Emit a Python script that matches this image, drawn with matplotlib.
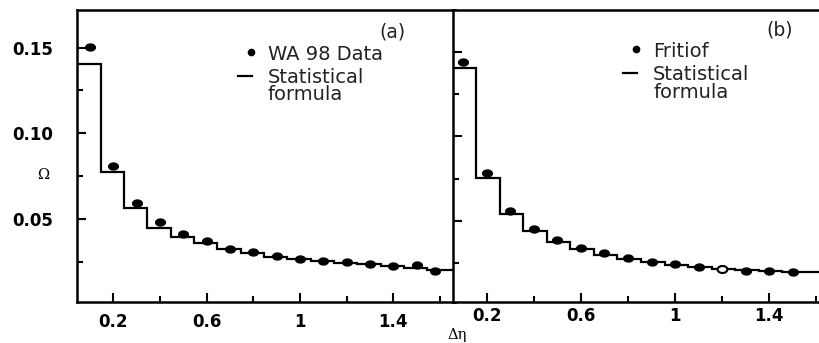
import numpy as np
import matplotlib
matplotlib.use("Agg")
import matplotlib.pyplot as plt
from matplotlib.lines import Line2D
from matplotlib.path import Path
from matplotlib.ticker import MultipleLocator

# bin centres (delta eta)
eta = np.array([0.1, 0.2, 0.3, 0.4, 0.5, 0.6, 0.7, 0.8, 0.9, 1.0,
                1.1, 1.2, 1.3, 1.4, 1.5, 1.6])

# panel (a): WA98 data and statistical formula
eta_wa98 = [0.1, 0.2, 0.3, 0.4, 0.5, 0.6, 0.7, 0.8, 0.9, 1.0,
            1.1, 1.2, 1.3, 1.4, 1.5, 1.58]
omega_wa98 = [0.1501, 0.0811, 0.0595, 0.0484, 0.0411, 0.0372, 0.0327, 0.0310,
              0.0284, 0.0267, 0.0255, 0.0249, 0.0236, 0.0228, 0.0231, 0.0199]
stat_a = [0.1404, 0.0776, 0.0566, 0.0449, 0.0393, 0.0358, 0.0323, 0.0300,
          0.0280, 0.0267, 0.0255, 0.0245, 0.0236, 0.0226, 0.0216, 0.0203]

# panel (b): Fritiof and statistical formula
eta_fritiof = [0.1, 0.2, 0.3, 0.4, 0.5, 0.6, 0.7, 0.8, 0.9, 1.0,
               1.1, 1.2, 1.3, 1.4, 1.5]
omega_fritiof = [0.1437, 0.0782, 0.0560, 0.0455, 0.0389, 0.0340, 0.0313, 0.0284,
                 0.0260, 0.0245, 0.0227, 0.0215, 0.0207, 0.0207, 0.0200]
stat_b = [0.1402, 0.0756, 0.0542, 0.0442, 0.0373, 0.0334, 0.0300, 0.0276,
          0.0257, 0.0241, 0.0227, 0.0217, 0.0212, 0.0206, 0.0200, 0.0196]

# slightly flattened dot, as in the scanned figure
circ = Path.unit_circle()
dot = Path(circ.vertices * [1.4, 1.0], circ.codes)

W, H = 819, 343
fig = plt.figure(figsize=(W / 100, H / 100), dpi=100)

def px(x0, y0, x1, y1):
    return [x0 / W, 1 - y1 / H, (x1 - x0) / W, (y1 - y0) / H]

ax1 = fig.add_axes(px(76.7, 10, 455, 302.3))
ax2 = fig.add_axes(px(453.3, 10, 819, 301.7))

def style(ax, xpad):
    for s in ax.spines.values():
        s.set_linewidth(1.8)
    ax.xaxis.set_major_locator(MultipleLocator(0.4))
    ax.xaxis.set_minor_locator(MultipleLocator(0.2))
    ax.yaxis.set_major_locator(MultipleLocator(0.05))
    ax.yaxis.set_minor_locator(MultipleLocator(0.025))
    ax.tick_params(which="both", direction="in", top=False, right=False, width=1.5)
    ax.tick_params(which="major", length=6.5)
    ax.tick_params(which="minor", length=4)
    ax.tick_params(axis="x", pad=xpad)
    ax.set_xticks([0.2, 0.6, 1.0, 1.4])
    ax.set_xticklabels(["0.2", "0.6", "1", "1.4"], fontsize=12, fontweight="bold")

style(ax1, 7.5)
style(ax2, 3.5)

ax1.set_xlim(0.043, 1.664)
ax1.set_ylim(0.0015, 0.1719)
ax1.set_yticks([0.05, 0.10, 0.15])
ax1.set_yticklabels(["0.05", "0.10", "0.15"], fontsize=12, fontweight="bold")
ax1.tick_params(axis="y", pad=17)

ax2.set_xlim(0.058, 1.611)
ax2.set_ylim(0.0023, 0.1746)
ax2.set_yticklabels([])
ax2.spines["right"].set_visible(False)

# panel (a)
ax1.stairs(stat_a, np.r_[eta - 0.055, 1.7], baseline=None, color="k", lw=1.6)
ax1.plot(eta_wa98, omega_wa98, ls="none", marker=dot, ms=7, color="k")

# panel (b)
ax2.stairs(stat_b, np.r_[eta - 0.045, 1.7], baseline=None, color="k", lw=1.6)
ax2.plot(eta_fritiof, omega_fritiof, ls="none", marker=dot, ms=7, color="k")
ax2.plot(eta_fritiof[11], omega_fritiof[11], ls="none", marker=dot, ms=7,
         color="k", mfc="white", mew=1.5)

# hand-placed keys (figure pixel positions)
def key(name, x, y, tag, tagx):
    T = fig.transFigure
    fig.add_artist(Line2D([(x + 12.7) / W], [1 - (y - 8) / H], transform=T,
                          ls="none", marker="o", ms=4.5, color="k"))
    fig.add_artist(Line2D([x / W, (x + 14) / W], [1 - (y + 16) / H] * 2,
                          transform=T, color="k", lw=1.6))
    tx = (x + 30) / W
    kw = dict(fontsize=14, color="#222222", ha="left")
    fig.text(tx, 1 - y / H, name, va="baseline", **kw)
    fig.text(tx, 1 - (y + 8.5) / H, "Statistical\nformula", va="top",
             linespacing=0.9, **kw)
    fig.text(tagx / W, 1 - (y - 27) / H, tag, fontsize=13.5, ha="center",
             va="center", color="#222222")

key("WA 98 Data", 238, 59.5, "(a)", 392)
key("Fritiof", 623, 57, "(b)", 780)

fig.text(43 / W, 1 - 175 / H, "Ω", family="DejaVu Serif", fontsize=10.5,
         ha="center", va="center")
fig.text(457 / W, 1 - 335 / H, "Δη", family="DejaVu Serif", fontsize=10.5,
         ha="center", va="center")

fig.savefig("out.png", dpi=100)
